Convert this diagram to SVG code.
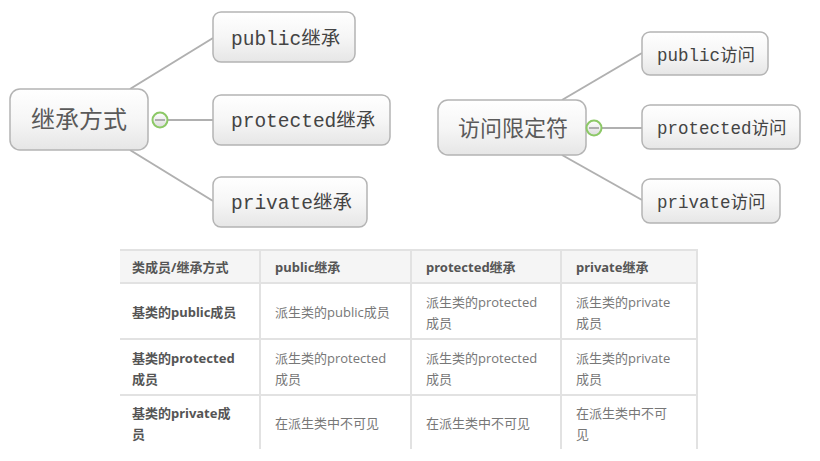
<svg xmlns="http://www.w3.org/2000/svg" width="820" height="461" viewBox="0 0 820 461">
<defs>
<linearGradient id="boxg" x1="0" y1="0" x2="0" y2="1">
<stop offset="0" stop-color="#ffffff"/>
<stop offset="0.5" stop-color="#f6f6f6"/>
<stop offset="1" stop-color="#e6e6e6"/>
</linearGradient>
<linearGradient id="btng" x1="0" y1="0" x2="0" y2="1">
<stop offset="0" stop-color="#ffffff"/>
<stop offset="1" stop-color="#dcdcdc"/>
</linearGradient>
</defs>
<style>
.box{fill:url(#boxg);stroke:#b4b4b4;stroke-width:1.5}
.root{font-family:"Noto Sans CJK SC",sans-serif;fill:#5a5a5a;}
.leaf{font-family:"Liberation Mono","Noto Sans CJK SC",monospace;fill:#444;}
.conn{stroke:#b0b0b0;stroke-width:2;fill:none}
.btn{fill:url(#btng);stroke:#8cc866;stroke-width:2}
.minus{stroke:#999;stroke-width:1.5}
.grid{stroke:#e2e2e2;stroke-width:2}
.th{font-family:"Noto Sans","Noto Sans CJK SC",sans-serif;font-size:13px;font-weight:bold;fill:#555}
.td{font-family:"Open Sans","Noto Sans CJK SC",sans-serif;font-size:13px;fill:#777}
</style>
<g id="connectors">
<path class="conn" d="M130 89 L213 38"/>
<path class="conn" d="M168 120 L213 120"/>
<path class="conn" d="M130 150 L213 201"/>
<path class="conn" d="M562 100 L642 53"/>
<path class="conn" d="M602 128 L642 128"/>
<path class="conn" d="M562 155 L642 200"/>
</g>
<g id="root-inherit">
<rect class="box" x="10" y="89" width="138" height="61" rx="10"/>
<text class="root" x="79" y="128" font-size="24" text-anchor="middle">继承方式</text>
</g>
<g id="toggle-inherit">
<circle class="btn" cx="160" cy="120" r="7.5"/>
<line class="minus" x1="155" y1="120" x2="165" y2="120"/>
</g>
<g id="public-inherit">
<rect class="box" x="213" y="12" width="142" height="50" rx="8"/>
<text class="leaf" x="231" y="45" font-size="19.5">public继承</text>
</g>
<g id="protected-inherit">
<rect class="box" x="213" y="95" width="177" height="50" rx="8"/>
<text class="leaf" x="231" y="127" font-size="19.5">protected继承</text>
</g>
<g id="private-inherit">
<rect class="box" x="213" y="177" width="154" height="50" rx="8"/>
<text class="leaf" x="231" y="209" font-size="19.5">private继承</text>
</g>
<g id="root-access">
<rect class="box" x="438" y="100" width="148" height="55" rx="10"/>
<text class="root" x="513" y="136" font-size="22" text-anchor="middle">访问限定符</text>
</g>
<g id="toggle-access">
<circle class="btn" cx="594" cy="128" r="7.5"/>
<line class="minus" x1="589" y1="128" x2="599" y2="128"/>
</g>
<g id="public-access">
<rect class="box" x="642" y="32" width="126" height="43" rx="8"/>
<text class="leaf" x="657" y="61" font-size="17.5">public访问</text>
</g>
<g id="protected-access">
<rect class="box" x="642" y="105" width="158" height="44" rx="8"/>
<text class="leaf" x="657" y="134" font-size="17.5">protected访问</text>
</g>
<g id="private-access">
<rect class="box" x="642" y="179" width="138" height="44" rx="8"/>
<text class="leaf" x="657" y="208" font-size="17.5">private访问</text>
</g>
<g id="table">
<rect x="120" y="250" width="578" height="33" fill="#f5f5f5"/>
<rect x="120" y="283" width="578" height="166" fill="#ffffff"/>
<line class="grid" x1="120" y1="250" x2="698" y2="250"/>
<line class="grid" x1="120" y1="283" x2="698" y2="283"/>
<line class="grid" x1="120" y1="339" x2="698" y2="339"/>
<line class="grid" x1="120" y1="395" x2="698" y2="395"/>
<line class="grid" x1="260" y1="250" x2="260" y2="449"/>
<line class="grid" x1="411" y1="250" x2="411" y2="449"/>
<line class="grid" x1="561" y1="250" x2="561" y2="449"/>
<line class="grid" x1="697" y1="250" x2="697" y2="449"/>
<text class="th" x="132" y="272">类成员/继承方式</text>
<text class="th" x="275" y="272">public继承</text>
<text class="th" x="426" y="272">protected继承</text>
<text class="th" x="576" y="272">private继承</text>
<text class="th" x="132" y="317">基类的public成员</text>
<text class="td" x="275" y="317">派生类的public成员</text>
<text class="td" x="426" y="307">派生类的protected</text>
<text class="td" x="426" y="328">成员</text>
<text class="td" x="576" y="307">派生类的private</text>
<text class="td" x="576" y="328">成员</text>
<text class="th" x="132" y="363">基类的protected</text>
<text class="th" x="132" y="384">成员</text>
<text class="td" x="275" y="363">派生类的protected</text>
<text class="td" x="275" y="384">成员</text>
<text class="td" x="426" y="363">派生类的protected</text>
<text class="td" x="426" y="384">成员</text>
<text class="td" x="576" y="363">派生类的private</text>
<text class="td" x="576" y="384">成员</text>
<text class="th" x="132" y="418">基类的private成</text>
<text class="th" x="132" y="439">员</text>
<text class="td" x="275" y="428">在派生类中不可见</text>
<text class="td" x="426" y="428">在派生类中不可见</text>
<text class="td" x="576" y="418">在派生类中不可</text>
<text class="td" x="576" y="439">见</text>
</g>
</svg>
